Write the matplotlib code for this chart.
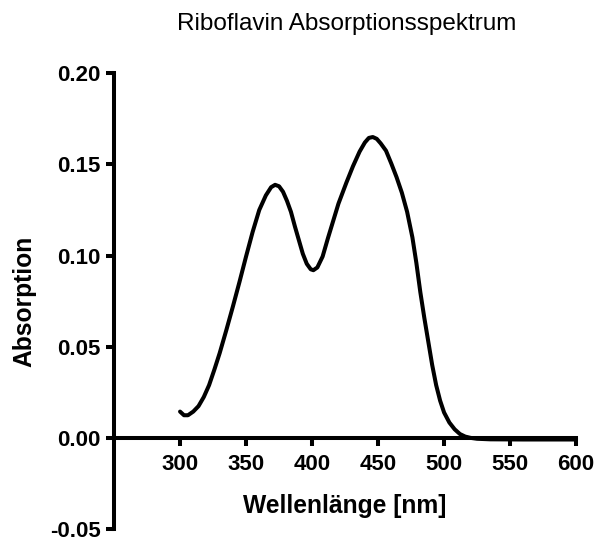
import matplotlib
matplotlib.use("Agg")
import matplotlib.pyplot as plt

plt.rcParams['font.family'] = ['Liberation Sans', 'DejaVu Sans']

# spectrum (nm, absorbance)
wavelength = [300, 303, 306, 310, 314, 318, 322, 326, 330, 335, 340, 345, 350,
              355, 360, 365, 369, 372, 375, 378, 381, 384, 387, 390, 393, 396,
              399, 401, 404, 408, 412, 416, 420, 426, 431, 436, 440, 443, 446,
              449, 452, 456, 460, 464, 468, 472, 476, 479, 482, 485, 488, 491,
              494, 497, 500, 504, 508, 512, 516, 520, 525, 535, 560, 600]
absorbance = [0.0145, 0.0125, 0.0125, 0.0145, 0.0175, 0.0225, 0.0290, 0.0375,
              0.0465, 0.0590, 0.0720, 0.0855, 0.0995, 0.1130, 0.1250, 0.1330,
              0.1375, 0.1388, 0.1380, 0.1350, 0.1300, 0.1240, 0.1160, 0.1085,
              0.1010, 0.0955, 0.0925, 0.0920, 0.0935, 0.0995, 0.1095, 0.1190,
              0.1285, 0.1400, 0.1490, 0.1570, 0.1620, 0.1645, 0.1650, 0.1640,
              0.1615, 0.1575, 0.1505, 0.1430, 0.1345, 0.1240, 0.1100, 0.0960,
              0.0800, 0.0660, 0.0530, 0.0400, 0.0290, 0.0205, 0.0140, 0.0085,
              0.0048, 0.0022, 0.0008, 0.0001, -0.0004, -0.0007, -0.0008,
              -0.0008]

x_ticks = [300, 350, 400, 450, 500, 550, 600]
y_ticks = [-0.05, 0.00, 0.05, 0.10, 0.15, 0.20]

fig = plt.figure(figsize=(5.97, 5.42), dpi=100)
ax = fig.add_axes([0.191, 0.0235, 0.774, 0.8415])

ax.plot(wavelength, absorbance, color='black', lw=2.9,
        solid_capstyle='round', solid_joinstyle='round')

ax.set_xlim(250, 600)
ax.set_ylim(-0.05, 0.20)

for side in ('top', 'right'):
    ax.spines[side].set_visible(False)
ax.spines['bottom'].set_position(('data', 0))
ax.spines['left'].set_linewidth(2.9)
ax.spines['bottom'].set_linewidth(2.9)

ax.set_xticks(x_ticks)
ax.set_yticks(y_ticks)
ax.set_yticklabels([f'{v:.2f}' for v in y_ticks])
ax.tick_params(axis='both', direction='out', length=5.5, width=2.9,
               labelsize=16)
ax.tick_params(axis='x', pad=6)
ax.tick_params(axis='y', pad=4)
for lab in ax.get_xticklabels() + ax.get_yticklabels():
    lab.set_fontweight('bold')

ax.set_xlabel('Wellenlänge [nm]', fontsize=17.7, fontweight='bold')
ax.xaxis.set_label_coords(0.5, 0.078)
ax.set_ylabel('Absorption', fontsize=17.7, fontweight='bold')
ax.yaxis.set_label_coords(-0.168, 0.5)

fig.text(0.580, 0.956, 'Riboflavin Absorptionsspektrum', fontsize=17.5,
         ha='center', va='center')

fig.savefig('out.png', dpi=100)
